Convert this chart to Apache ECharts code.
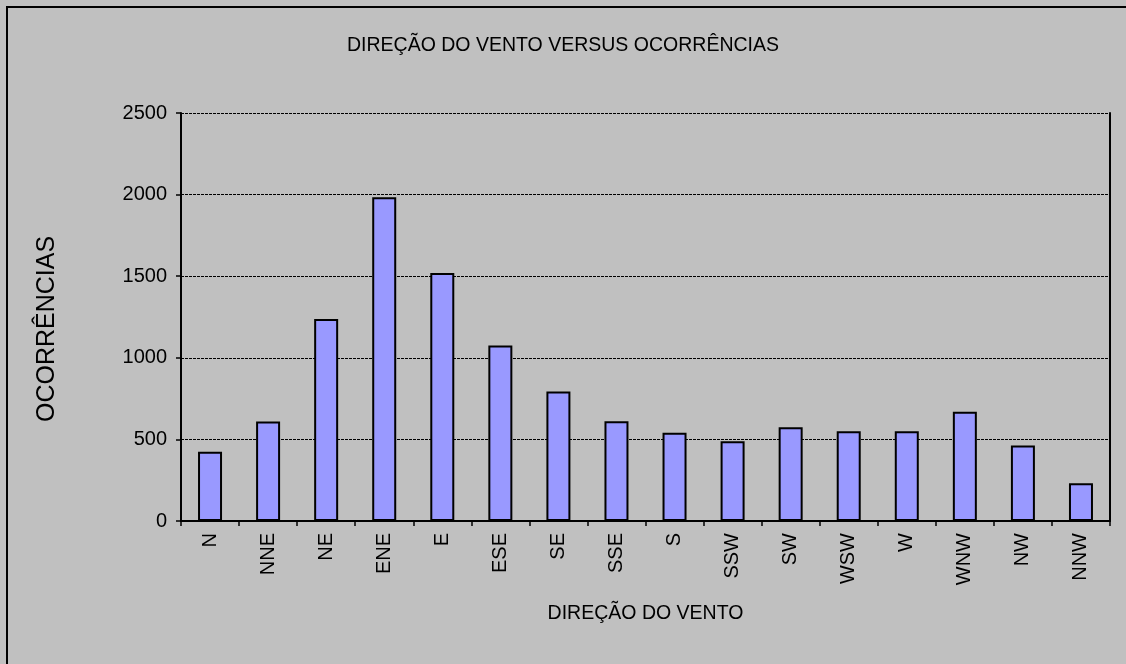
<!DOCTYPE html>
<html lang="pt">
<head>
    <meta charset="UTF-8">
    <title>Direção do vento versus ocorrências</title>
    <script src="https://cdn.jsdelivr.net/npm/echarts@6/dist/echarts.min.js"></script>
    <style>
        html, body { margin: 0; padding: 0; background: #c0c0c0; }
        #chart { width: 1126px; height: 664px; }
    </style>
</head>
<body>
<div id="chart"></div>
<script>
    // dados
    var direcoes = ['N', 'NNE', 'NE', 'ENE', 'E', 'ESE', 'SE', 'SSE', 'S', 'SSW', 'SW', 'WSW', 'W', 'WNW', 'NW', 'NNW'];
    var ocorrencias = [425, 609, 1237, 1983, 1519, 1075, 793, 611, 540, 489, 574, 550, 550, 670, 462, 231];
    var yTicks = [0, 500, 1000, 1500, 2000, 2500];

    var fonte = 'Liberation Sans, Arial, sans-serif';
    var myChart = echarts.init(document.getElementById('chart'));
    var option = {
        backgroundColor: '#c0c0c0',
        animation: false,
        title: {
            text: 'DIREÇÃO DO VENTO VERSUS OCORRÊNCIAS',
            left: 'center',
            top: 31,
            textStyle: { fontFamily: fonte, fontSize: 19.5, fontWeight: 'normal', color: '#000' }
        },
        graphic: [{
            type: 'rect',
            shape: { x: 7, y: 7, width: 1130, height: 670 },
            style: { fill: 'none', stroke: '#000', lineWidth: 2 },
            silent: true
        }],
        grid: { left: 181, right: 16, top: 113, bottom: 143 },
        xAxis: {
            type: 'category',
            data: direcoes,
            name: 'DIREÇÃO DO VENTO',
            nameLocation: 'middle',
            nameGap: 83,
            nameTextStyle: { fontFamily: fonte, fontSize: 19.5, color: '#000' },
            axisLine: { lineStyle: { color: '#000', width: 2 } },
            axisTick: { show: true, length: 5, lineStyle: { color: '#000', width: 1.5 } },
            axisLabel: { rotate: 90, margin: 12, fontFamily: fonte, fontSize: 20, color: '#000' }
        },
        yAxis: [{
            type: 'value',
            min: 0,
            max: 2500,
            interval: 500,
            name: 'OCORRÊNCIAS',
            nameLocation: 'middle',
            nameRotate: 90,
            nameGap: 121,
            nameTextStyle: { fontFamily: fonte, fontSize: 25, color: '#000', padding: [0, 24, 0, 0] },
            axisLine: { show: true, lineStyle: { color: '#000', width: 2 } },
            axisTick: { show: true, length: 5, lineStyle: { color: '#000', width: 1.5 } },
            axisLabel: {
                margin: 14, fontFamily: fonte, fontSize: 20, color: '#000',
                formatter: function (v) { return yTicks.indexOf(v) >= 0 ? String(v) : ''; }
            },
            splitLine: { show: true, lineStyle: { color: '#000', width: 1, type: [3, 1] } }
        }, {
            type: 'value',
            position: 'right',
            min: 0,
            max: 2500,
            interval: 500,
            axisLine: { show: true, lineStyle: { color: '#000', width: 2 } },
            axisTick: { show: false },
            axisLabel: { show: false },
            splitLine: { show: false }
        }],
        series: [{
            name: 'ocorrencias',
            type: 'bar',
            data: ocorrencias,
            barWidth: 24,
            itemStyle: { color: '#9999ff', borderColor: '#000', borderWidth: 2 }
        }]
    };
    myChart.setOption(option);
</script>
</body>
</html>
